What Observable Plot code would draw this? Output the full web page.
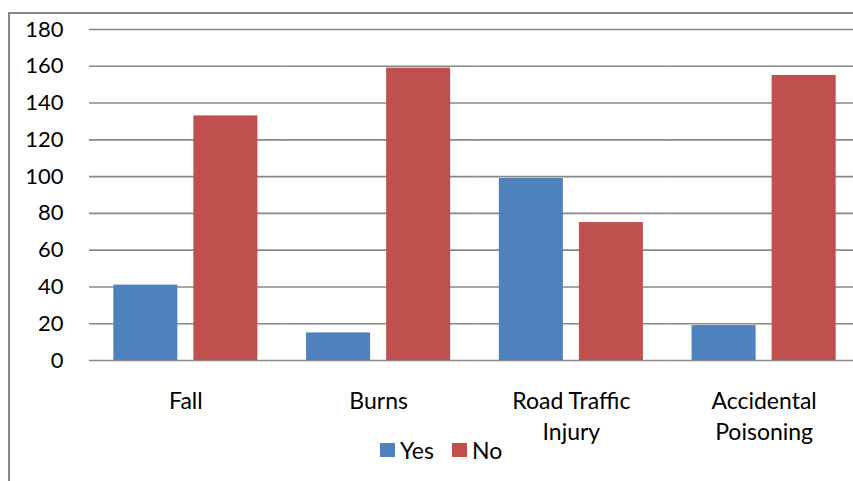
<!DOCTYPE html>
<html>
<head>
<meta charset="utf-8">
<script src="https://cdn.jsdelivr.net/npm/d3@7"></script>
<script src="https://cdn.jsdelivr.net/npm/@observablehq/plot@0.6"></script>
<style>
  html, body { margin: 0; padding: 0; background: #fff; overflow: hidden; width: 853px; height: 481px; }
  #wrap { position: relative; width: 853px; height: 481px; }
  #border { position: absolute; left: 8px; top: 12px; width: 1000px; height: 1000px;
            border-left: 2px solid #878787; border-top: 2px solid #878787; box-sizing: border-box; }
  #chart { position: absolute; left: 0; top: 0; }
  #legend { position: absolute; top: 436px; left: 380px; font-family: Lato, "Open Sans", sans-serif;
            font-size: 23px; color: #000; display: flex; align-items: center; white-space: nowrap; }
  .sw { display: inline-block; width: 15px; height: 14px; margin-right: 5px; }
  .item { display: inline-flex; align-items: center; margin-right: 18px; }
</style>
</head>
<body>
<div id="wrap">
  <div id="border"></div>
  <div id="chart"></div>
  <div id="legend"></div>
</div>
<script>
const categories = ["Fall", "Burns", "Road Traffic Injury", "Accidental Poisoning"];
const categoryLabels = ["Fall", "Burns", "Road Traffic\nInjury", "Accidental\nPoisoning"];
const series = ["Yes", "No"];
const yesValues = [41, 15, 99, 19];
const noValues = [133, 159, 75, 155];
const seriesColors = ["#4F81BD", "#C0504D"];
const yTicks = [0, 20, 40, 60, 80, 100, 120, 140, 160, 180];

const data = [];
categories.forEach((c, i) => {
  data.push({category: c, series: "Yes", value: yesValues[i]});
  data.push({category: c, series: "No", value: noValues[i]});
});
const labelOf = new Map(categories.map((c, i) => [c, categoryLabels[i]]));

const font = "Lato, 'Open Sans', sans-serif";
const chart = Plot.plot({
  width: 853,
  height: 481,
  marginLeft: 89,
  marginRight: -7,
  marginTop: 29,
  marginBottom: 121,
  style: {fontFamily: font, fontSize: "22px", color: "#000", background: "transparent", overflow: "visible"},
  fx: {domain: categories, padding: 0, round: false, label: null},
  x: {domain: series, paddingInner: 0.2, paddingOuter: 0.304, round: false, axis: null},
  y: {domain: [0, 180], label: null},
  color: {domain: series, range: seriesColors},
  marks: [
    Plot.gridY(yTicks, {stroke: "#888888", strokeOpacity: 1, strokeWidth: 1.6}),
    Plot.barY(data, {fx: "category", x: "series", y: "value", fill: "series"}),
    Plot.axisY(yTicks, {tickSize: 0, tickPadding: 26, fontSize: 22, label: null, fill: "#000"}),
    Plot.axisFx({anchor: "bottom", tickSize: 0, tickPadding: 26, fontSize: 23, lineHeight: 1.35,
                 label: null, tickFormat: d => labelOf.get(d), fill: "#000"})
  ]
});
document.getElementById("chart").appendChild(chart);

const legend = document.getElementById("legend");
series.forEach((s, i) => {
  const item = document.createElement("span");
  item.className = "item";
  const sw = document.createElement("span");
  sw.className = "sw";
  sw.style.background = seriesColors[i];
  item.appendChild(sw);
  item.appendChild(document.createTextNode(s));
  legend.appendChild(item);
});
</script>
</body>
</html>
